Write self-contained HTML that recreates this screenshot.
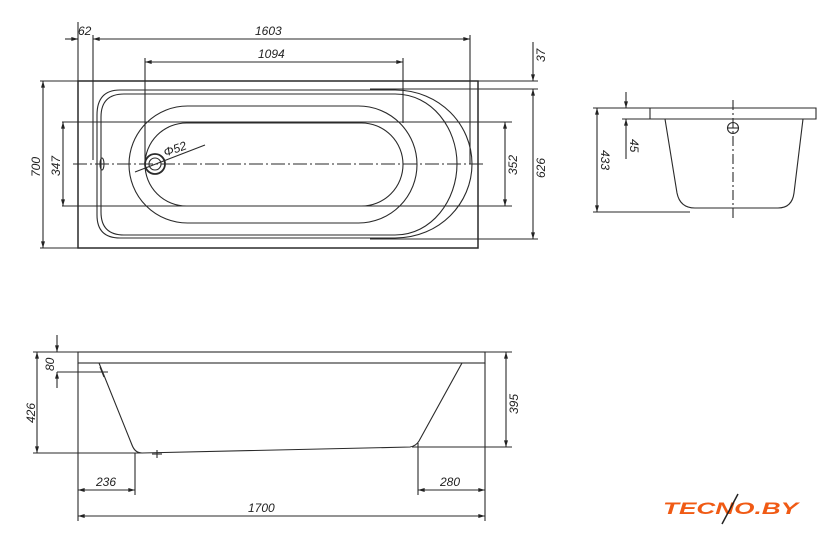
<!DOCTYPE html>
<html><head><meta charset="utf-8"><style>
html,body{margin:0;padding:0;background:#fff;}
svg{display:block}
text{font-family:"Liberation Sans",sans-serif;font-style:italic;font-size:12px;fill:#222}
</style></head><body>
<svg width="840" height="542" viewBox="0 0 840 542" xmlns="http://www.w3.org/2000/svg">
<defs>
<marker id="a" viewBox="0 0 10 6" refX="10" refY="3" markerWidth="10" markerHeight="4" orient="auto-start-reverse" markerUnits="userSpaceOnUse"><path d="M0 0 L10 3 L0 6 Z" fill="#222"/></marker>
</defs>
<g stroke="#2a2a2a" stroke-width="1.1" fill="none">
<rect x="78" y="81" width="400" height="167" stroke-width="1.5"/>
<path d="M120 90 L395 90 C440 90 472 125 472 164 C472 203 440 238 395 238 L120 238 Q97 238 97 215 L97 115 Q97 90 120 90 Z"/>
<path d="M124 94 L395 94 C432 94 457 128 457 164 C457 200 432 235 395 235 L124 235 Q101 235 101 212 L101 117 Q101 94 124 94 Z"/>
<rect x="129" y="106" width="288" height="117" rx="58.5"/>
<rect x="145" y="123" width="258" height="83" rx="41.5"/>
<circle cx="155" cy="164" r="10" stroke-width="1.8"/>
<circle cx="155" cy="164" r="6"/>
<ellipse cx="102" cy="164" rx="2" ry="6"/>
<line x1="73" y1="164" x2="483" y2="164" stroke-dasharray="14 3 2 3"/>
<line x1="135" y1="172" x2="205" y2="145"/>
<line x1="78" y1="22" x2="78" y2="81"/>
<line x1="93" y1="35" x2="93" y2="160"/>
<line x1="470" y1="35" x2="470" y2="164"/>
<line x1="145" y1="58" x2="145" y2="164"/>
<line x1="403" y1="58" x2="403" y2="123"/>
<line x1="478" y1="81" x2="538" y2="81"/>
<line x1="370" y1="89" x2="538" y2="89"/>
<line x1="370" y1="239" x2="538" y2="239"/>
<line x1="62" y1="122" x2="512" y2="122"/>
<line x1="62" y1="206" x2="512" y2="206"/>
<line x1="40" y1="81" x2="78" y2="81"/>
<line x1="40" y1="248" x2="78" y2="248"/>
<line x1="65" y1="39" x2="78" y2="39" marker-end="url(#a)"/>
<line x1="93" y1="39" x2="470" y2="39" marker-start="url(#a)" marker-end="url(#a)"/>
<line x1="145" y1="62" x2="403" y2="62" marker-start="url(#a)" marker-end="url(#a)"/>
<line x1="533" y1="42" x2="533" y2="81" marker-end="url(#a)"/>
<line x1="533" y1="89" x2="533" y2="239" marker-start="url(#a)" marker-end="url(#a)"/>
<line x1="505" y1="122" x2="505" y2="206" marker-start="url(#a)" marker-end="url(#a)"/>
<line x1="63" y1="122" x2="63" y2="206" marker-start="url(#a)" marker-end="url(#a)"/>
<line x1="43" y1="81" x2="43" y2="248" marker-start="url(#a)" marker-end="url(#a)"/>

<path d="M593 108 L816 108 L816 119 L650 119 L650 108"/>
<line x1="622" y1="119" x2="650" y2="119"/>
<path d="M665 119 L677 193 Q680 208 695 208 L778 208 Q792 208 794 193 L803 119"/>
<line x1="593" y1="212" x2="690" y2="212"/>
<line x1="733" y1="100" x2="733" y2="218" stroke-dasharray="10 3 2 3"/>
<circle cx="733" cy="128" r="5.5"/>
<line x1="727.5" y1="128" x2="738.5" y2="128"/>
<line x1="597" y1="108" x2="597" y2="212" marker-start="url(#a)" marker-end="url(#a)"/>
<line x1="626" y1="92" x2="626" y2="108" marker-end="url(#a)"/>
<line x1="626" y1="159" x2="626" y2="119" marker-end="url(#a)"/>

<rect x="78" y="352" width="407" height="11"/>
<line x1="33" y1="352" x2="512" y2="352"/>
<path d="M99 363 L132 445 Q135 453 142 453 L410 447 Q416 446 419 441 L462 363"/>
<line x1="33" y1="453" x2="140" y2="453"/>
<line x1="412" y1="447" x2="512" y2="447"/>
<line x1="57" y1="372" x2="108" y2="372"/>
<line x1="100" y1="367" x2="104" y2="377"/>
<line x1="152" y1="454" x2="162" y2="454"/><line x1="157" y1="450" x2="157" y2="458"/>
<line x1="78" y1="363" x2="78" y2="521"/>
<line x1="485" y1="363" x2="485" y2="521"/>
<line x1="135" y1="453" x2="135" y2="495"/>
<line x1="418" y1="443" x2="418" y2="495"/>
<line x1="37" y1="352" x2="37" y2="453" marker-start="url(#a)" marker-end="url(#a)"/>
<line x1="57" y1="335" x2="57" y2="352" marker-end="url(#a)"/>
<line x1="57" y1="388" x2="57" y2="372" marker-end="url(#a)"/>
<line x1="506" y1="352" x2="506" y2="447" marker-start="url(#a)" marker-end="url(#a)"/>
<line x1="78" y1="490" x2="135" y2="490" marker-start="url(#a)" marker-end="url(#a)"/>
<line x1="418" y1="490" x2="485" y2="490" marker-start="url(#a)" marker-end="url(#a)"/>
<line x1="78" y1="516" x2="485" y2="516" marker-start="url(#a)" marker-end="url(#a)"/>
</g>
<text x="78" y="35">62</text>
<text x="255" y="35">1603</text>
<text x="258" y="58">1094</text>
<text x="163" y="153" transform="rotate(-20 175 148)">Φ52</text>
<text transform="translate(545 62) rotate(-90)">37</text>
<text transform="translate(545 178) rotate(-90)">626</text>
<text transform="translate(517 175) rotate(-90)">352</text>
<text transform="translate(60 176) rotate(-90)">347</text>
<text transform="translate(40 177) rotate(-90)">700</text>
<text transform="translate(601 150) rotate(90)">433</text>
<text transform="translate(630 139) rotate(90)">45</text>
<text transform="translate(35 423) rotate(-90)">426</text>
<text transform="translate(54 371) rotate(-90)">80</text>
<text transform="translate(518 414) rotate(-90)">395</text>
<text x="96" y="486">236</text>
<text x="440" y="486">280</text>
<text x="248" y="512">1700</text>
<text x="663" y="514" textLength="135" lengthAdjust="spacingAndGlyphs" style="font-size:17px;font-weight:bold;fill:#f05a14">TECNO.BY</text>
<line x1="738" y1="494" x2="722" y2="524" stroke="#222" stroke-width="1.5"/>
</svg>
</body></html>
